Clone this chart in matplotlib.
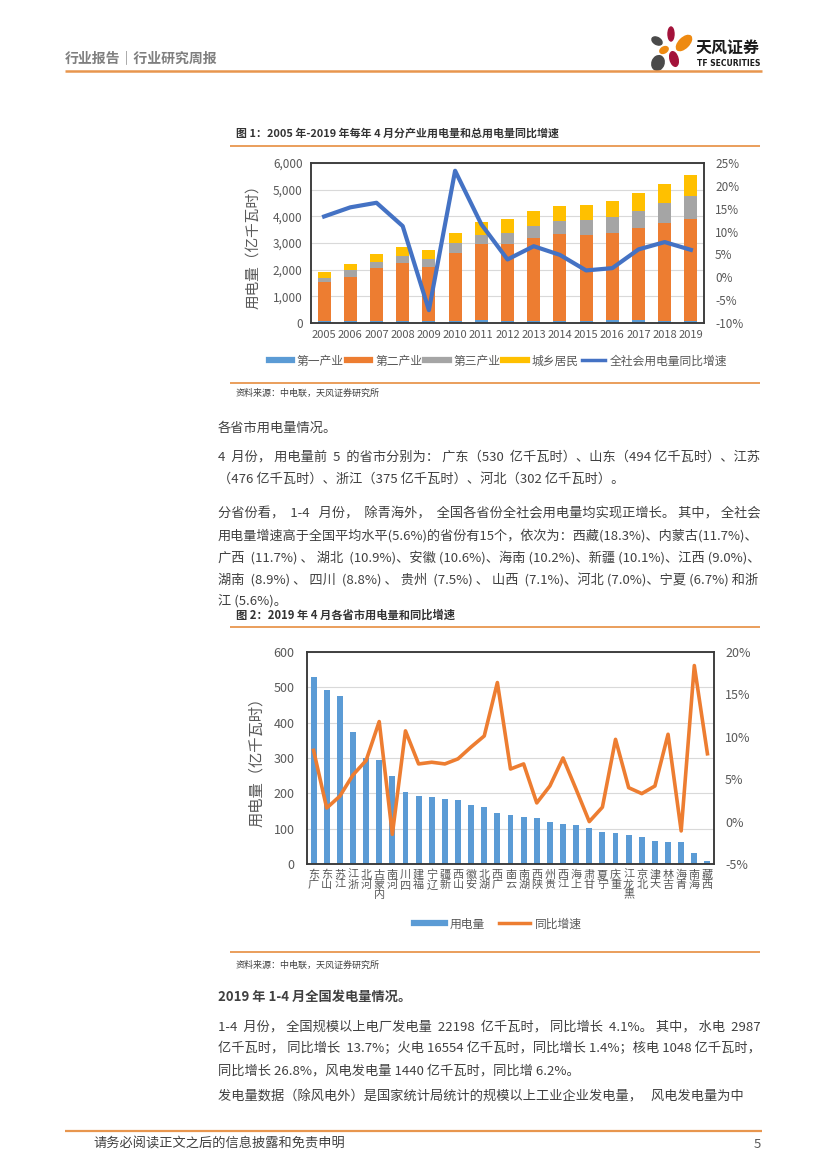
import matplotlib
matplotlib.use("Agg")
import matplotlib.pyplot as plt
from matplotlib.lines import Line2D
from matplotlib.patches import Ellipse
from matplotlib.ticker import FuncFormatter

plt.rcParams['font.family'] = ['Noto Sans CJK SC', 'DejaVu Sans']

# ---- chart 1 data: April consumption by sector (亿千瓦时) and YoY growth (%)
years = [str(y) for y in range(2005, 2020)]
primary = [60, 65, 70, 75, 75, 80, 100, 85, 85, 80, 80, 95, 100, 80, 75]
secondary = [1459, 1678, 2009, 2191, 2041, 2559, 2863, 2890, 3114, 3269, 3231, 3291, 3473, 3667, 3834]
tertiary = [186, 249, 211, 261, 274, 349, 336, 411, 448, 460, 548, 573, 635, 747, 859]
residential = [212, 236, 299, 324, 349, 398, 485, 523, 536, 561, 560, 610, 672, 734, 772]
growth_total = [13.3, 15.3, 16.3, 11.2, -7.2, 23.3, 11.6, 3.9, 6.8, 4.9, 1.5, 2.0, 6.1, 7.7, 6.0]

# ---- chart 2 data: April 2019 consumption by province and YoY growth (%)
provinces = ['广东', '山东', '江苏', '浙江', '河北', '内蒙古', '河南', '四川', '福建', '辽宁',
             '新疆', '山西', '安徽', '湖北', '广西', '云南', '湖南', '陕西', '贵州', '江西',
             '上海', '甘肃', '宁夏', '重庆', '黑龙江', '北京', '天津', '吉林', '青海', '海南', '西藏']
prov_usage = [530, 493, 475, 375, 301, 293, 249, 205, 193, 190, 184, 182, 166, 161, 143, 140,
              134, 129, 119, 114, 111, 102, 90, 87, 82, 76, 64, 61, 61, 31, 8]
prov_growth = [8.4, 1.6, 3.0, 5.5, 7.2, 11.8, -1.5, 10.7, 6.8, 7.0, 6.8, 7.4, 8.8, 10.1, 16.4, 6.2,
               6.8, 2.2, 4.2, 7.5, 3.8, 0.0, 1.7, 9.7, 4.0, 3.3, 4.2, 10.3, -1.1, 18.4, 8.0]

BLUE, ORANGE, GRAY, YELLOW, NAVY = '#5B9BD5', '#ED7D31', '#A5A5A5', '#FFC000', '#4472C4'
RULE = '#E8964E'
TXT = '#404040'
TICK = '#595959'
W, H = 827, 1170

fig = plt.figure(figsize=(W / 100, H / 100), dpi=100)
page = fig.add_axes([0, 0, 1, 1], zorder=0)
page.set_xlim(0, W)
page.set_ylim(H, 0)
page.axis('off')
renderer = fig.canvas.get_renderer()


def rule(y, x0, x1, lw=1.3):
    page.plot([x0, x1], [y, y], color=RULE, lw=lw, solid_capstyle='butt')


def spaced(s, spots, counts):
    out, prev = [], 0
    for p, n in zip(spots, counts):
        out.append(s[prev:p] + ' ' * n)
        prev = p
    out.append(s[prev:])
    return ''.join(out)


def line(x, y, s, width=None, size=9.5, **kw):
    # one text per line; a justified line gets spaces after punctuation until it fills the width
    t = page.text(x, y, s, fontsize=size, va='center', ha='left', color=TXT, **kw)
    if not width:
        return t
    w = t.get_window_extent(renderer).width
    if w > width:
        t.set_fontsize(size * width / w)
        return t
    spots = [i + 1 for i, c in enumerate(s[:-1]) if c in '、，：；。)' or (c == ' ' and s[i + 1] != ' ')]
    if not spots:
        return t
    counts = [0] * len(spots)
    for k in range(3 * len(spots)):
        counts[k % len(spots)] += 1
        t.set_text(spaced(s, spots, counts))
        if t.get_window_extent(renderer).width > width + 1:
            counts[k % len(spots)] -= 1
            t.set_text(spaced(s, spots, counts))
            break
    return t


def box_axes(x0, y0, x1, y1):
    return fig.add_axes([x0 / W, 1 - y1 / H, (x1 - x0) / W, (y1 - y0) / H], zorder=2)


def style(ax, ax2):
    for a in (ax, ax2):
        for sp in a.spines.values():
            sp.set_color('#3A3A3A')
            sp.set_linewidth(1.1)
        a.tick_params(length=0, colors=TICK, labelsize=8.5)
    ax.grid(axis='y', color='#D9D9D9', lw=0.8)
    ax.set_axisbelow(True)


pct = FuncFormatter(lambda v, _: f'{v:.0f}%')

# ---- header
page.text(65, 58, '行业报告｜行业研究周报', fontsize=10, color='#7F7F7F', fontweight='bold', va='center')
rule(71, 65, 762, lw=1.8)
for (cx, cy, w, h, ang, col) in [(671, 34, 6, 14, 0, '#A3123A'), (684, 43, 19, 10, -45, '#EE8A12'),
                                  (657, 41, 11, 7, 30, '#4A4A4A'), (664, 50, 9, 6, -30, '#EE8A12'),
                                  (674, 59, 8, 15, -15, '#A3123A'), (658, 63, 12, 15, 20, '#4A4A4A')]:
    page.add_patch(Ellipse((cx, cy), w, h, angle=ang, color=col))
page.text(696, 48, '天风证券', fontsize=11.5, fontweight='bold', color='#1A1A1A', va='center')
page.text(697, 64, 'TF SECURITIES', fontsize=5.5, fontweight='bold', color='#1A1A1A', va='center',
          family=['DejaVu Sans'])

# ---- chart 1
page.text(236, 133, '图 1：2005 年-2019 年每年 4 月分产业用电量和总用电量同比增速', fontsize=7.9,
          fontweight='bold', color='#333333', va='center')
rule(146, 230, 760)
ax = box_axes(311, 163, 704, 323)
x = range(len(years))
b1 = primary
b2 = [p + s for p, s in zip(primary, secondary)]
b3 = [p + t for p, t in zip(b2, tertiary)]
ax.bar(x, primary, width=0.5, color=BLUE)
ax.bar(x, secondary, width=0.5, bottom=b1, color=ORANGE)
ax.bar(x, tertiary, width=0.5, bottom=b2, color=GRAY)
ax.bar(x, residential, width=0.5, bottom=b3, color=YELLOW)
ax.set_ylim(0, 6000)
ax.set_yticks(range(0, 6001, 1000))
ax.yaxis.set_major_formatter(FuncFormatter(lambda v, _: f'{v:,.0f}'))
ax.set_xlim(-0.5, len(years) - 0.5)
ax.set_xticks(list(x))
ax.set_xticklabels(years)
ax.set_ylabel('用电量（亿千瓦时）', fontsize=10.5, color=TICK, labelpad=9)
axr = ax.twinx()
axr.plot(x, growth_total, color=NAVY, lw=3, solid_joinstyle='round')
axr.set_ylim(-10, 25)
axr.set_yticks(range(-10, 26, 5))
axr.yaxis.set_major_formatter(pct)
style(ax, axr)
ax.tick_params(axis='x', labelsize=8, pad=5)
ax.tick_params(axis='y', pad=6)
axr.tick_params(axis='y', pad=8)
h1 = [Line2D([], [], color=c, lw=4.5) for c in (BLUE, ORANGE, GRAY, YELLOW)]
h1.append(Line2D([], [], color=NAVY, lw=2.5))
fig.legend(h1, ['第一产业', '第二产业', '第三产业', '城乡居民', '全社会用电量同比增速'], loc='center',
           bbox_to_anchor=(498 / W, 1 - 361 / H), ncol=5, frameon=False, fontsize=8.5,
           handlelength=2.0, handletextpad=0.4, columnspacing=0.25, labelcolor=TICK)
rule(383, 230, 760)
page.text(236, 393, '资料来源：中电联，天风证券研究所', fontsize=6.5, color=TXT, va='center')

# ---- body text
X0, X1 = 218, 760
line(X0, 428, '各省市用电量情况。')
line(X0, 457, '4 月份，用电量前 5 的省市分别为：广东（530 亿千瓦时）、山东（494 亿千瓦时）、江苏', X1 - X0)
line(X0, 479, '（476 亿千瓦时）、浙江（375 亿千瓦时）、河北（302 亿千瓦时）。')
para = ['分省份看，1-4 月份，除青海外，全国各省份全社会用电量均实现正增长。其中，全社会',
        '用电量增速高于全国平均水平(5.6%)的省份有15个，依次为：西藏(18.3%)、内蒙古(11.7%)、',
        '广西 (11.7%)、湖北 (10.9%)、安徽 (10.6%)、海南 (10.2%)、新疆 (10.1%)、江西 (9.0%)、',
        '湖南 (8.9%)、四川 (8.8%)、贵州 (7.5%)、山西 (7.1%)、河北 (7.0%)、宁夏 (6.7%) 和浙']
for i, s in enumerate(para):
    line(X0, 514 + 22 * i, s, X1 - X0)
line(X0, 601, '江 (5.6%)。')

# ---- chart 2
page.text(236, 615, '图 2：2019 年 4 月各省市用电量和同比增速', fontsize=8.1, fontweight='bold',
          color='#333333', va='center')
rule(627, 230, 760)
bx = box_axes(307, 652, 714, 864)
xp = range(len(provinces))
bx.bar(xp, prov_usage, width=0.45, color=BLUE)
bx.set_ylim(0, 600)
bx.set_yticks(range(0, 601, 100))
bx.set_xlim(-0.5, len(provinces) - 0.5)
bx.set_xticks(list(xp))
bx.set_xticklabels(['\n'.join(reversed(p)) for p in provinces], va='top', linespacing=1.0)
bx.set_ylabel('用电量（亿千瓦时）', fontsize=11, color=TICK, labelpad=6)
bxr = bx.twinx()
bxr.plot(xp, prov_growth, color=ORANGE, lw=2.6, solid_joinstyle='round')
bxr.set_ylim(-5, 20)
bxr.set_yticks(range(-5, 21, 5))
bxr.yaxis.set_major_formatter(pct)
style(bx, bxr)
bx.tick_params(axis='x', labelsize=8, pad=4)
bx.tick_params(axis='y', labelsize=9, pad=9)
bxr.tick_params(axis='y', labelsize=9, pad=8)
h2 = [Line2D([], [], color=BLUE, lw=4.5), Line2D([], [], color=ORANGE, lw=2.5)]
fig.legend(h2, ['用电量', '同比增速'], loc='center', bbox_to_anchor=(498 / W, 1 - 924 / H), ncol=2,
           frameon=False, fontsize=8.5, handlelength=2.6, handletextpad=0.4, columnspacing=1.2,
           labelcolor=TICK)
rule(952, 230, 760)
page.text(236, 965, '资料来源：中电联，天风证券研究所', fontsize=6.5, color=TXT, va='center')

# ---- generation text
line(X0, 997, '2019 年 1-4 月全国发电量情况。', fontweight='bold')
gen = ['1-4 月份，全国规模以上电厂发电量 22198 亿千瓦时，同比增长 4.1%。其中，水电 2987',
       '亿千瓦时，同比增长 13.7%；火电 16554 亿千瓦时，同比增长 1.4%；核电 1048 亿千瓦时，']
for i, s in enumerate(gen):
    line(X0, 1027 + 22 * i, s, X1 - X0)
line(X0, 1071, '同比增长 26.8%，风电发电量 1440 亿千瓦时，同比增 6.2%。')
line(X0, 1097, '发电量数据（除风电外）是国家统计局统计的规模以上工业企业发电量，风电发电量为中', X1 - X0)

# ---- footer
rule(1131, 65, 762, lw=1.6)
page.text(93, 1144, '请务必阅读正文之后的信息披露和免责申明', fontsize=9.5, color=TXT, va='center')
page.text(757, 1144, '5', fontsize=9.5, color=TICK, va='center', ha='center')

fig.savefig('out.png', dpi=100)
